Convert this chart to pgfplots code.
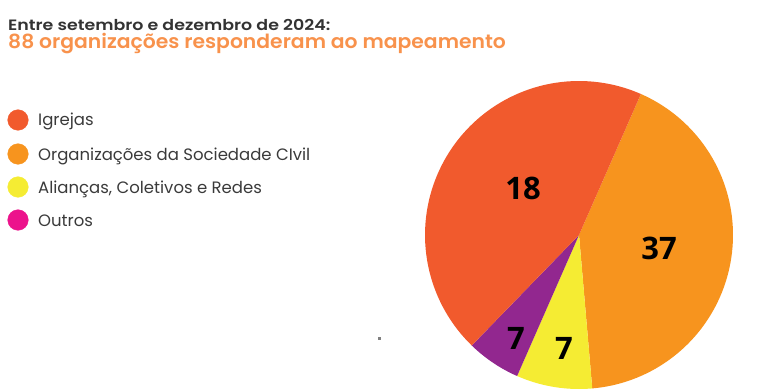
\documentclass[border=0pt]{standalone}
\usepackage{pgfplots}
\usepackage{pgfplotstable}
\pgfplotsset{compat=1.18}
\usepackage{fontspec}
\setmainfont{Poppins}
\IfFontExistsTF{Poppins SemiBold}
  {\newfontfamily\titlefont{Poppins SemiBold}[FakeStretch=1.0]
   \newcommand\tA{\titlefont\addfontfeature{FakeStretch=1.16}}
   \newcommand\tB{\titlefont\addfontfeature{FakeStretch=1.043}}}
  {\newfontfamily\titlefont{Poppins}
   \newcommand\tA{\titlefont\bfseries\addfontfeature{FakeStretch=1.15}}
   \newcommand\tB{\titlefont\bfseries\addfontfeature{FakeStretch=1.045}}}
\IfFontExistsTF{Open Sans SemiBold}
  {\newfontfamily\numfont{Open Sans SemiBold}}
  {\newfontfamily\numfont{Open Sans}[UprightFont=*-Bold]}
\definecolor{cRed}{HTML}{F15A2D}
\definecolor{cOrg}{HTML}{F7941E}
\definecolor{cYel}{HTML}{F5EC33}
\definecolor{cPur}{HTML}{92278F}
\definecolor{cMag}{HTML}{EC138C}
\definecolor{cTitle}{HTML}{333333}
\definecolor{cSub}{HTML}{F8924C}
\definecolor{cTxt}{HTML}{3A3A3A}

% slice = share of the 88 organisations as drawn; label = number printed on the slice
\pgfplotstableread{
slice share label lx ly
Igrejas 39 18 523 201
Orgs 37 37 659 141
Aliancas 7 7 564 41
Outros 5 7 516 51
}\piedata

\begin{document}
\begin{tikzpicture}
\pgfplotstablegetelem{0}{share}\of\piedata \let\sIgr=\pgfplotsretval
\pgfplotstablegetelem{1}{share}\of\piedata \let\sOrg=\pgfplotsretval
\pgfplotstablegetelem{2}{share}\of\piedata \let\sAli=\pgfplotsretval
\pgfplotstablegetelem{3}{share}\of\piedata \let\sOut=\pgfplotsretval
\pgfmathsetmacro{\tot}{\sIgr+\sOrg+\sAli+\sOut}
\pgfmathsetmacro{\aA}{66.3}
\pgfmathsetmacro{\aB}{\aA-360*\sOrg/\tot}
\pgfmathsetmacro{\aC}{\aB-360*\sAli/\tot}
\pgfmathsetmacro{\aD}{\aC-360*\sOut/\tot}
\pgfmathsetmacro{\aE}{\aD-360*\sIgr/\tot}
\begin{axis}[scale only axis, width=768pt, height=389pt,
  xmin=0, xmax=768, ymin=0, ymax=389, axis lines=none, clip=false]
% pie slices
\addplot[draw=none, fill=cOrg, domain=\aB:\aA, samples=80, variable=\t]
  ({579+154*cos(\t)}, {154+154*sin(\t)}) -- (axis cs:579,154) -- cycle;
\addplot[draw=none, fill=cYel, domain=\aC:\aB, samples=30, variable=\t]
  ({579+154*cos(\t)}, {154+154*sin(\t)}) -- (axis cs:579,154) -- cycle;
\addplot[draw=none, fill=cPur, domain=\aD:\aC, samples=30, variable=\t]
  ({579+154*cos(\t)}, {154+154*sin(\t)}) -- (axis cs:579,154) -- cycle;
\addplot[draw=none, fill=cRed, domain=\aE:\aD, samples=80, variable=\t]
  ({579+154*cos(\t)}, {154+154*sin(\t)}) -- (axis cs:579,154) -- cycle;
% slice labels
\addplot[only marks, mark=none,
  nodes near coords={\numfont\pgfplotspointmeta},
  point meta=explicit symbolic,
  every node near coord/.append style={anchor=center, font=\fontsize{31}{31}\selectfont, text=black}]
  table[x=lx, y=ly, meta=label] {\piedata};
% legend dots
\addplot[only marks, mark=*, mark size=10.3pt, cRed] coordinates {(18,269)};
\addplot[only marks, mark=*, mark size=10.3pt, cOrg] coordinates {(18,235)};
\addplot[only marks, mark=*, mark size=10.3pt, cYel] coordinates {(18,202)};
\addplot[only marks, mark=*, mark size=10.3pt, cMag] coordinates {(18,169)};
\addplot[only marks, mark=square*, mark size=0.8pt, gray] coordinates {(379,51)};
% legend text
\node[anchor=base west, inner sep=0pt, text=cTxt, font=\fontsize{16.5}{16.5}\selectfont] at (axis cs:38,263) {Igrejas};
\node[anchor=base west, inner sep=0pt, text=cTxt, font=\fontsize{16.5}{16.5}\selectfont] at (axis cs:38,229) {Organizações da Sociedade CIvil};
\node[anchor=base west, inner sep=0pt, text=cTxt, font=\fontsize{16.5}{16.5}\selectfont] at (axis cs:38,196) {Alianças, Coletivos e Redes};
\node[anchor=base west, inner sep=0pt, text=cTxt, font=\fontsize{16.5}{16.5}\selectfont] at (axis cs:38,163) {Outros};
% titles
\node[anchor=base west, inner sep=0pt, text=cTitle, font=\fontsize{15}{15}\tA] at (axis cs:8,358) {Entre setembro e dezembro de 2024:};
\node[anchor=base west, inner sep=0pt, text=cSub, font=\fontsize{19.5}{19.5}\tB] at (axis cs:8,340) {88 organizações responderam ao mapeamento};
\end{axis}
\pgfresetboundingbox
\useasboundingbox (current axis.south west) rectangle (current axis.north east);
\end{tikzpicture}
\end{document}
